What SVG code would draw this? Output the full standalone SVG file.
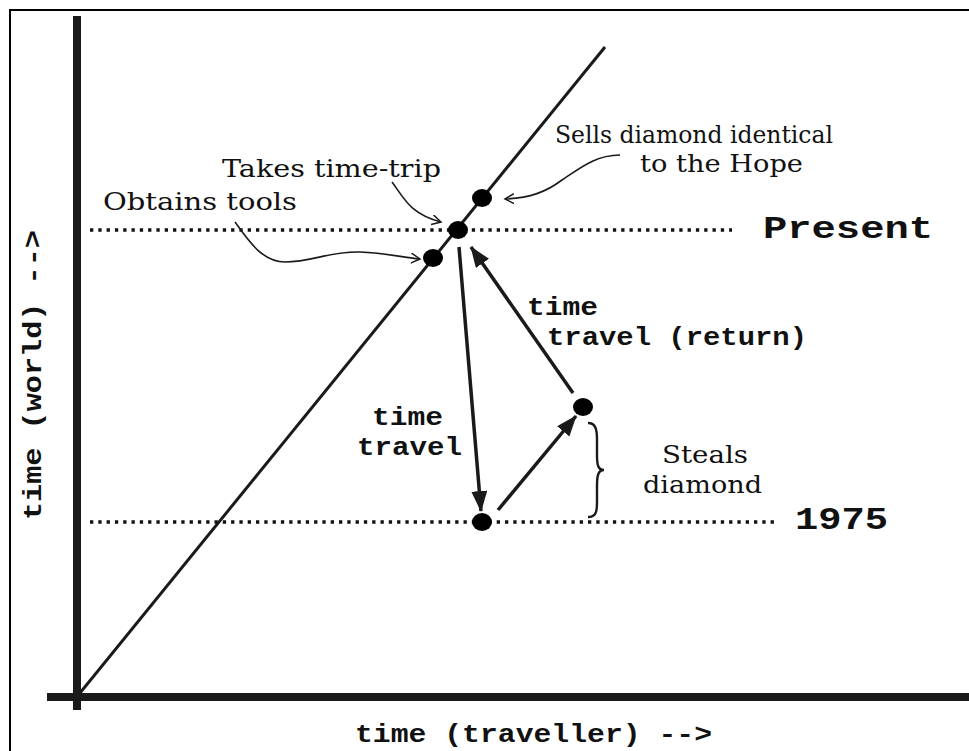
<svg xmlns="http://www.w3.org/2000/svg" width="969" height="751" viewBox="0 0 969 751">
<defs>
<style>
.frame{fill:none;stroke:#000;stroke-width:2}
.axis{stroke:#1a1a1a;stroke-width:8;fill:none}
.diag{stroke:#1a1a1a;stroke-width:3;fill:none}
.dotted{stroke:#111;stroke-width:3.3;stroke-dasharray:3.3 5;fill:none}
.arrow{stroke:#1a1a1a;stroke-width:3.5;fill:none;marker-end:url(#ah)}
.leader{stroke:#1a1a1a;stroke-width:1.6;fill:none;marker-end:url(#lh)}
.brace{stroke:#1a1a1a;stroke-width:2.4;fill:none}
.dot{fill:#000}
.serif{font-family:"DejaVu Serif","Liberation Serif",serif;font-size:24px;fill:#111}
.mono{font-family:"Liberation Mono","DejaVu Sans Mono",monospace;font-weight:bold;font-size:25px;fill:#111}
.big{font-family:"Liberation Mono","DejaVu Sans Mono",monospace;font-weight:bold;font-size:31px;fill:#111}
</style>
<marker id="ah" markerUnits="userSpaceOnUse" markerWidth="24" markerHeight="18" refX="20" refY="8" orient="auto">
<path d="M0,0 L21,8 L0,16 z" fill="#1a1a1a"/>
</marker>
<marker id="lh" markerUnits="userSpaceOnUse" markerWidth="12" markerHeight="12" refX="9" refY="5" orient="auto">
<path d="M0,0 L9,5 L0,10" fill="none" stroke="#1a1a1a" stroke-width="1.5"/>
</marker>
</defs>
<rect x="0" y="0" width="969" height="751" fill="#fff"/>
<rect class="frame" x="10" y="10" width="980" height="760"/>

<g id="axes">
<line class="axis" x1="77" y1="16" x2="77" y2="710"/>
<line class="axis" x1="47" y1="697" x2="969" y2="697"/>
<line class="diag" x1="80" y1="693" x2="605" y2="47"/>
</g>

<g id="reference-lines">
<line class="dotted" x1="90" y1="230" x2="732" y2="230"/>
<line class="dotted" x1="90" y1="522" x2="778" y2="522"/>
<text class="big" x="763" y="238" textLength="170" lengthAdjust="spacingAndGlyphs">Present</text>
<text class="big" x="795" y="529" textLength="93" lengthAdjust="spacingAndGlyphs">1975</text>
</g>

<g id="connectors">
<line class="arrow" x1="459" y1="247" x2="481" y2="511"/>
<line class="arrow" x1="498" y1="510" x2="576" y2="416"/>
<line class="arrow" x1="573" y1="393" x2="471" y2="247"/>
<path class="leader" d="M235,222 C248,240 262,262 285,262 C312,262 330,251 360,252 C385,253 400,257 420,259"/>
<path class="leader" d="M392,182 C404,198 410,214 441,222"/>
<path class="leader" d="M620,155 C596,155 580,168 562,180 C546,192 530,198 505,199"/>
<path class="brace" d="M588,423 C596,423 597,430 597,440 L597,455 C597,465 598,470 604,470 C598,470 597,476 597,486 L597,502 C597,512 596,517 588,517"/>
</g>

<g id="node-obtains">
<ellipse class="dot" cx="433" cy="258" rx="10" ry="9"/>
<text class="serif" x="103" y="210" textLength="194" lengthAdjust="spacingAndGlyphs">Obtains tools</text>
</g>
<g id="node-takes">
<ellipse class="dot" cx="458" cy="230" rx="10" ry="9"/>
<text class="serif" x="222" y="177" textLength="219" lengthAdjust="spacingAndGlyphs">Takes time-trip</text>
</g>
<g id="node-sells">
<ellipse class="dot" cx="482" cy="198" rx="10" ry="9"/>
<text class="serif" x="555" y="143" textLength="278" lengthAdjust="spacingAndGlyphs">Sells diamond identical</text>
<text class="serif" x="640" y="172" textLength="163" lengthAdjust="spacingAndGlyphs">to the Hope</text>
</g>
<g id="node-steals">
<ellipse class="dot" cx="583" cy="407" rx="10" ry="9"/>
<text class="serif" x="662" y="463" textLength="86" lengthAdjust="spacingAndGlyphs">Steals</text>
<text class="serif" x="643" y="493" textLength="119" lengthAdjust="spacingAndGlyphs">diamond</text>
</g>
<g id="node-1975">
<ellipse class="dot" cx="482" cy="522" rx="10" ry="9"/>
</g>

<g id="labels">
<text class="mono" x="527" y="315" textLength="71" lengthAdjust="spacingAndGlyphs">time</text>
<text class="mono" x="547" y="345" textLength="260" lengthAdjust="spacingAndGlyphs">travel (return)</text>
<text class="mono" x="372" y="425" textLength="71" lengthAdjust="spacingAndGlyphs">time</text>
<text class="mono" x="357" y="455" textLength="105" lengthAdjust="spacingAndGlyphs">travel</text>
<text class="mono" x="355" y="742" textLength="357" lengthAdjust="spacingAndGlyphs">time (traveller) --&gt;</text>
<text class="mono" transform="translate(41,520) rotate(-90)" x="0" y="0" textLength="290" lengthAdjust="spacingAndGlyphs">time (world) --&gt;</text>
</g>
</svg>
